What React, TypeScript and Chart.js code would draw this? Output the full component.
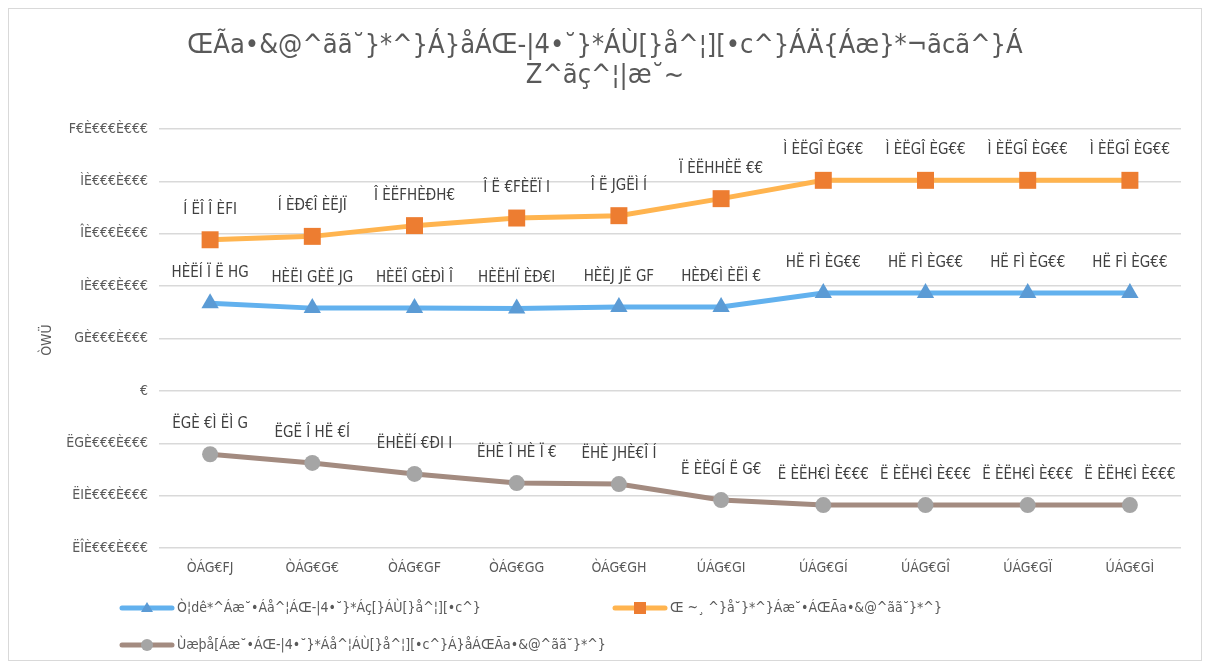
import React, { useEffect, useRef } from "react";
import { Chart, registerables } from "chart.js";
Chart.register(...registerables);

const FONT = "'Liberation Sans Narrow', 'DejaVu Sans Condensed', 'Liberation Sans', sans-serif";

const categories = ["ÒÁG€FJ", "ÒÁG€G€", "ÒÁG€GF", "ÒÁG€GG", "ÒÁG€GH", "ÚÁG€GI", "ÚÁG€GÍ", "ÚÁG€GÎ", "ÚÁG€GÏ", "ÚÁG€GÌ"];

const blueValues = [3350000, 3160000, 3160000, 3150000, 3200000, 3200000, 3740000, 3740000, 3740000, 3740000];
const orangeValues = [5770000, 5900000, 6310000, 6600000, 6690000, 7340000, 8040000, 8040000, 8040000, 8040000];
const greyValues = [-2420000, -2750000, -3170000, -3520000, -3560000, -4170000, -4360000, -4360000, -4360000, -4360000];

const blueLabels = ["HÈËÍ Ï Ë HG", "HÈËI GÈË JG", "HÈËÎ GÈÐÌ Î", "HÈËHÏ ÈÐ€I", "HÈËJ JË GF", "HÈÐ€Ì ÈËÌ €", "HË FÌ ÈG€€", "HË FÌ ÈG€€", "HË FÌ ÈG€€", "HË FÌ ÈG€€"];
const orangeLabels = ["Í ËÎ Î ÈFI", "Í ÈÐ€Î ÈËJÏ", "Î ÈËFHÈÐH€", "Î Ë €FÈËÏ I", "Î Ë JGËÌ Í", "Ï ÈËHHÈË €€", "Ì ÈËGÎ ÈG€€", "Ì ÈËGÎ ÈG€€", "Ì ÈËGÎ ÈG€€", "Ì ÈËGÎ ÈG€€"];
const greyLabels = ["ËGÈ €Ì ËÌ G", "ËGË Î HË €Í", "ËHÈËÍ €ÐI I", "ËHÈ Î HÈ Ï €", "ËHÈ JHÈ€Î Í", "Ë ÈËGÍ Ë G€", "Ë ÈËH€Ì È€€€", "Ë ÈËH€Ì È€€€", "Ë ÈËH€Ì È€€€", "Ë ÈËH€Ì È€€€"];

const yTickValues = [-6000000, -4000000, -2000000, 0, 2000000, 4000000, 6000000, 8000000, 10000000];
const yTickLabels = ["ËÎÈ€€€È€€€", "ËIÈ€€€È€€€", "ËGÈ€€€È€€€", "€", "GÈ€€€È€€€", "IÈ€€€È€€€", "ÎÈ€€€È€€€", "ÌÈ€€€È€€€", "F€È€€€È€€€"];

const titleLines = ["ŒÃa•&@^ãã˘}*^}Á}åÁŒ-|4•˘}*ÁÙ[}å^¦][•c^}ÁÄ{Áæ}*¬ãcã^}Á", "Z^ãç^¦|æ˘~"];
const yTitle = "ÒWÜ";
const seriesNames = [
  "Ò¦dê*^Áæ˘•Áå^¦ÁŒ-|4•˘}*Áç[}ÁÙ[}å^¦][•c^}",
  "Œ ~¸ ^}å˘}*^}Áæ˘•ÁŒÃa•&@^ãã˘}*^}",
  "Ùæþå[Áæ˘•ÁŒ-|4•˘}*Áå^¦ÁÙ[}å^¦][•c^}Á}åÁŒÃa•&@^ãã˘}*^}",
];

const TEXT = "#595959";

const customPlugin = {
  id: "custom",
  afterDatasetsDraw(chart: any) {
    const ctx = chart.ctx;
    const labelSets = [blueLabels, orangeLabels, greyLabels];
    ctx.save();
    ctx.font = `15px ${FONT}`;
    ctx.fillStyle = "#404040";
    ctx.textAlign = "center";
    ctx.textBaseline = "middle";
    chart.data.datasets.forEach((_: any, di: number) => {
      const meta = chart.getDatasetMeta(di);
      meta.data.forEach((el: any, i: number) => {
        ctx.fillText(labelSets[di][i], el.x, el.y - 30);
      });
    });
    ctx.restore();
  },
  afterDraw(chart: any) {
    const ctx = chart.ctx;
    const w = chart.width;
    ctx.save();
    ctx.fillStyle = TEXT;
    ctx.textAlign = "center";
    ctx.textBaseline = "middle";
    ctx.font = `27px ${FONT}`;
    ctx.fillText(titleLines[0], w / 2, 37);
    ctx.fillText(titleLines[1], w / 2, 67);
    ctx.font = `14px ${FONT}`;
    ctx.translate(38, 331);
    ctx.rotate(-Math.PI / 2);
    ctx.fillText(yTitle, 0, 0);
    ctx.restore();

    const items = [
      { x: 113, y: 599, ds: 0 },
      { x: 606, y: 599, ds: 1 },
      { x: 113, y: 636, ds: 2 },
    ];
    ctx.save();
    items.forEach((it) => {
      const ds = chart.data.datasets[it.ds];
      ctx.strokeStyle = ds.borderColor;
      ctx.lineWidth = 5;
      ctx.lineCap = "round";
      ctx.beginPath();
      ctx.moveTo(it.x, it.y);
      ctx.lineTo(it.x + 50, it.y);
      ctx.stroke();
      ctx.fillStyle = ds.pointBackgroundColor;
      const cx = it.x + 25;
      if (ds.pointStyle === "triangle") {
        ctx.beginPath();
        ctx.moveTo(cx, it.y - 6);
        ctx.lineTo(cx + 6, it.y + 4);
        ctx.lineTo(cx - 6, it.y + 4);
        ctx.closePath();
        ctx.fill();
      } else if (ds.pointStyle === "rect") {
        ctx.fillRect(cx - 6, it.y - 6, 12, 12);
      } else {
        ctx.beginPath();
        ctx.arc(cx, it.y, 6, 0, Math.PI * 2);
        ctx.fill();
      }
      ctx.fillStyle = TEXT;
      ctx.font = `14px ${FONT}`;
      ctx.textAlign = "left";
      ctx.textBaseline = "middle";
      ctx.fillText(seriesNames[it.ds], it.x + 55, it.y);
    });
    ctx.restore();
  },
};

export default function App() {
  const ref = useRef<HTMLCanvasElement>(null);
  useEffect(() => {
    if (!ref.current) return;
    const chart = new Chart(ref.current, {
      type: "line",
      data: {
        labels: categories,
        datasets: [
          {
            label: seriesNames[0],
            data: blueValues,
            borderColor: "#62B1EE",
            backgroundColor: "#5B9BD5",
            pointBackgroundColor: "#5B9BD5",
            pointBorderColor: "#5B9BD5",
            pointBorderWidth: 0,
            pointStyle: "triangle",
            pointRadius: 10,
            borderWidth: 5,
            tension: 0,
          },
          {
            label: seriesNames[1],
            data: orangeValues,
            borderColor: "#FFB44F",
            backgroundColor: "#ED7D31",
            pointBackgroundColor: "#ED7D31",
            pointBorderColor: "#ED7D31",
            pointBorderWidth: 0,
            pointStyle: "rect",
            pointRadius: 12,
            borderWidth: 5,
            tension: 0,
          },
          {
            label: seriesNames[2],
            data: greyValues,
            borderColor: "#A38B80",
            backgroundColor: "#A5A5A5",
            pointBackgroundColor: "#A5A5A5",
            pointBorderColor: "#A5A5A5",
            pointBorderWidth: 0,
            pointStyle: "circle",
            pointRadius: 8,
            borderWidth: 5,
            tension: 0,
          },
        ],
      },
      options: {
        animation: false,
        responsive: true,
        maintainAspectRatio: false,
        layout: { padding: { top: 120, bottom: 72, left: 0, right: 20 } },
        plugins: {
          legend: { display: false },
          title: { display: false },
          tooltip: { enabled: false },
        },
        scales: {
          x: {
            offset: true,
            grid: { display: false, drawTicks: false },
            border: { display: false },
            ticks: { color: TEXT, font: { family: FONT, size: 14 }, padding: 12, maxRotation: 0 },
            afterFit: (s: any) => { s.height = 40; },
          },
          y: {
            min: -6000000,
            max: 10000000,
            afterBuildTicks: (s: any) => { s.ticks = yTickValues.map((v) => ({ value: v })); },
            grid: { color: "#D9D9D9", lineWidth: 1.5, drawTicks: false },
            border: { display: false },
            ticks: {
              color: TEXT,
              font: { family: FONT, size: 14 },
              padding: 11,
              callback: (v: any) => {
                const i = yTickValues.indexOf(Number(v));
                return i >= 0 ? yTickLabels[i] : "";
              },
            },
            afterFit: (s: any) => { s.width = 150; },
          },
        },
      },
      plugins: [customPlugin],
    });
    return () => chart.destroy();
  }, []);
  return (
    <div style={{ width: 1192, height: 651, border: "1px solid #D9D9D9", position: "relative", background: "#fff" }}>
      <canvas ref={ref} />
    </div>
  );
}
